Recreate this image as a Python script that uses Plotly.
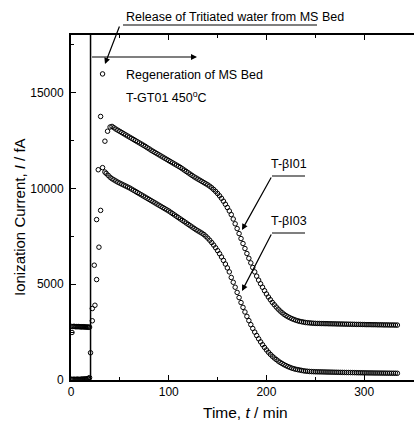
import plotly.graph_objects as go

# ---------------- data ----------------
# before regeneration starts (t < 20 min)
pre_t = list(range(0, 20))
bi01_pre = [2800, 2480, 2790, 2800, 2790, 2780, 2790, 2780, 2790, 2780,
            2770, 2780, 2770, 2780, 2770, 2760, 2770, 2760, 2750, 2760]
bi03_pre = [40, 30, 30, 40, 30, 30, 40, 40, 30, 30,
            40, 40, 50, 40, 50, 60, 50, 70, 90, 120]

# rise / release of tritiated water
bi01_rise_t = [21.8, 23.8, 26.2, 30.3, 32.3, 34.7, 37.4]
bi01_rise = [3730, 5990, 8370, 13750, 15970, 12460, 12980]
bi03_rise_t = [20.0, 21.8, 24.5, 26.2, 28.6, 30.3, 27.9, 32.3, 34.7]
bi03_rise = [1420, 3090, 3900, 5240, 6930, 8850, 10970, 11080, 10850]

# decay curves, sampled every 2 min
bi01_t = list(range(40, 336, 2))
bi01 = [13200, 13230, 13160, 13090, 13030, 12970, 12910, 12850, 12790, 12730,
        12670, 12610, 12550, 12490, 12430, 12370, 12310, 12250, 12190, 12120,
        12060, 11990, 11930, 11870, 11810, 11750, 11690, 11630, 11570, 11510,
        11450, 11390, 11330, 11270, 11210, 11150, 11090, 11020, 10950, 10880,
        10810, 10740, 10670, 10600, 10540, 10480, 10420, 10360, 10300, 10240,
        10180, 10110, 10030, 9940, 9840, 9730, 9610, 9480, 9330, 9170,
        9000, 8820, 8630, 8400, 8150, 7900, 7640, 7380, 7120, 6860,
        6600, 6350, 6110, 5870, 5640, 5420, 5210, 5020, 4840, 4660,
        4490, 4330, 4190, 4050, 3930, 3810, 3700, 3600, 3510, 3430,
        3360, 3300, 3250, 3200, 3160, 3120, 3090, 3060, 3040, 3020,
        3000, 2990, 2980, 2970, 2960, 2955, 2950, 2950, 2945, 2945,
        2940, 2940, 2935, 2935, 2930, 2930, 2925, 2925, 2920, 2920,
        2915, 2915, 2910, 2910, 2905, 2905, 2900, 2900, 2900, 2895,
        2895, 2890, 2890, 2890, 2885, 2885, 2885, 2880, 2880, 2880,
        2875, 2875, 2875, 2870, 2870, 2870, 2865, 2865]

bi03_t = list(range(36, 336, 2))
bi03 = [10780, 10680, 10580, 10500, 10440, 10380, 10320, 10270, 10220, 10170,
        10120, 10070, 10020, 9960, 9900, 9840, 9780, 9720, 9660, 9600,
        9540, 9480, 9420, 9360, 9300, 9240, 9180, 9120, 9060, 9000,
        8940, 8880, 8820, 8750, 8680, 8610, 8540, 8470, 8400, 8330,
        8260, 8190, 8120, 8050, 7980, 7910, 7840, 7780, 7720, 7660,
        7590, 7500, 7400, 7290, 7170, 7040, 6900, 6750, 6590, 6420,
        6240, 6050, 5850, 5640, 5350, 5100, 4840, 4570, 4300, 4040,
        3790, 3550, 3320, 3100, 2890, 2690, 2500, 2320, 2150, 1990,
        1840, 1700, 1570, 1450, 1340, 1240, 1150, 1070, 990, 920,
        860, 800, 750, 700, 660, 620, 590, 560, 540, 520,
        500, 480, 465, 455, 445, 440, 435, 430, 428, 425,
        423, 420, 418, 415, 413, 410, 408, 405, 403, 400,
        398, 396, 394, 392, 390, 388, 386, 384, 382, 380,
        378, 376, 374, 372, 370, 369, 368, 366, 365, 364,
        362, 361, 360, 358, 357, 356, 354, 353, 352, 350]

x_ticks = [0, 100, 200, 300]
y_ticks = [0, 5000, 10000, 15000]

# ---------------- layout helpers ----------------
L, T, W, H = 71, 35, 343, 345
X_MAX, Y_MAX = 351, 18000
FONT = "Liberation Sans, Arial, Helvetica, sans-serif"


def paper_x(px):
    return (px - L) / W


def paper_y(py):
    return (T + H - py) / H


def data_x(px):
    return (px - L) / W * X_MAX


def data_y(py):
    return (T + H - py) / H * Y_MAX


fig = go.Figure()
marker = dict(symbol="circle-open", size=4.5, color="black", line=dict(width=1, color="black"))
fig.add_trace(go.Scatter(x=pre_t + bi01_rise_t + bi01_t, y=bi01_pre + bi01_rise + bi01,
                         mode="markers", marker=marker, name="T-βI01", cliponaxis=True))
fig.add_trace(go.Scatter(x=pre_t + bi03_rise_t + bi03_t, y=bi03_pre + bi03_rise + bi03,
                         mode="markers", marker=marker, name="T-βI03", cliponaxis=True))

# vertical line at start of regeneration
fig.add_shape(type="line", xref="x", yref="y", x0=20, x1=20, y0=0, y1=Y_MAX,
              line=dict(color="black", width=1.5))

# underlines (paper coords)
for (x0, x1, y) in [(123, 317, 25), (272, 305, 176), (272, 305, 233)]:
    fig.add_shape(type="line", xref="paper", yref="paper",
                  x0=paper_x(x0), x1=paper_x(x1), y0=paper_y(y), y1=paper_y(y),
                  line=dict(color="black", width=1.2))

ann = []
txt = dict(showarrow=False, font=dict(family=FONT, size=12.5, color="black"),
           xref="paper", yref="paper")
ann.append(dict(text="Release of Tritiated water from MS Bed", x=paper_x(124), y=paper_y(17),
                xanchor="left", yanchor="middle", **txt))
ann.append(dict(text="Regeneration of MS Bed", x=paper_x(124), y=paper_y(75),
                xanchor="left", yanchor="middle", **txt))
ann.append(dict(text="T-GT01 450<sup>o</sup>C", x=paper_x(124), y=paper_y(97),
                xanchor="left", yanchor="middle", **txt))
ann.append(dict(text="T-βI01", x=paper_x(289), y=paper_y(164),
                xanchor="center", yanchor="middle", **txt))
ann.append(dict(text="T-βI03", x=paper_x(289), y=paper_y(221),
                xanchor="center", yanchor="middle", **txt))

# arrows
arr = dict(text="", showarrow=True, arrowhead=2, arrowsize=1, arrowwidth=1.2,
           arrowcolor="black", xref="x", yref="y", standoff=0, startstandoff=0)
# release arrow
ann.append(dict(x=data_x(105), y=data_y(64), ax=120 - 105, ay=25 - 64, **arr))
# regeneration arrow
ann.append(dict(x=data_x(197), y=data_y(57), ax=20, ay=data_y(57),
                axref="x", ayref="y", **arr))
# T-bI01 leader
ann.append(dict(x=data_x(242), y=data_y(230), ax=272 - 242, ay=176 - 230, **arr))
# T-bI03 leader
ann.append(dict(x=data_x(242), y=data_y(291), ax=272 - 242, ay=233 - 291, **arr))

# axis titles
ann.append(dict(text="Time, <i>t</i> / min", x=paper_x(245), y=paper_y(412),
                xanchor="center", yanchor="middle", showarrow=False,
                font=dict(family=FONT, size=15.5, color="black"), xref="paper", yref="paper"))
ann.append(dict(text="Ionization Current, <i>I</i> / fA", x=paper_x(19), y=paper_y(217),
                xanchor="center", yanchor="middle", textangle=-90, showarrow=False,
                font=dict(family=FONT, size=15, color="black"), xref="paper", yref="paper"))

fig.update_layout(
    width=414, height=421,
    margin=dict(l=L, r=414 - L - W, t=T, b=421 - T - H, pad=0),
    paper_bgcolor="white", plot_bgcolor="white",
    showlegend=False,
    font=dict(family=FONT, size=12, color="black"),
    annotations=ann,
    xaxis=dict(range=[0, X_MAX], showgrid=False, zeroline=False, showline=True,
               linecolor="black", linewidth=2, mirror="ticks",
               ticks="inside", ticklen=5, tickwidth=1.2, tickcolor="black",
               tickvals=x_ticks, ticktext=[str(v) for v in x_ticks],
               minor=dict(dtick=50, tick0=0, ticks="inside", ticklen=3, tickcolor="black", showgrid=False),
               tickfont=dict(family=FONT, size=12, color="black")),
    yaxis=dict(range=[0, Y_MAX], showgrid=False, zeroline=False, showline=True,
               linecolor="black", linewidth=2, mirror=False,
               ticks="inside", ticklen=5, tickwidth=1.2, tickcolor="black",
               tickvals=y_ticks, ticktext=[str(v) for v in y_ticks],
               minor=dict(dtick=2500, tick0=0, ticks="inside", ticklen=3, tickcolor="black", showgrid=False),
               ticklabelstandoff=3,
               tickfont=dict(family=FONT, size=12, color="black")),
)

fig.write_html("out.html", config={"displayModeBar": False},
               post_script="document.body.style.margin='0';document.body.style.padding='0';document.documentElement.style.overflow='hidden';")
